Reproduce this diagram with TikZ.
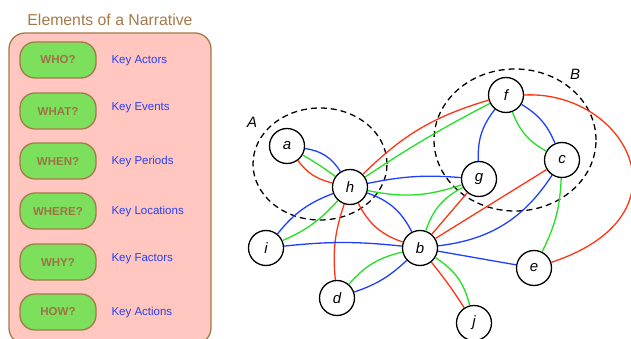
\documentclass[tikz,border=0pt]{standalone}
\usepackage{fontspec}
\setmainfont{Liberation Sans}
\usepackage{tikz}

\definecolor{brownline}{HTML}{A5794A}
\definecolor{panelpink}{HTML}{FFC7BF}
\definecolor{pillgreen}{HTML}{7DE05C}
\definecolor{labelblue}{HTML}{2B3FF0}
\definecolor{edgered}{HTML}{FF3414}
\definecolor{edgegreen}{HTML}{22E022}
\definecolor{edgeblue}{HTML}{1F3FFF}

\tikzset{
    pill/.style={draw=brownline, line width=1.3pt, fill=pillgreen, rounded corners=15pt,
        minimum width=76pt, minimum height=36pt, inner sep=0pt,
        font=\fontsize{11.5}{12}\selectfont\bfseries, text=brownline!95!black},
    keylabel/.style={anchor=west, font=\fontsize{11.5}{12}\selectfont, text=labelblue},
    vertex/.style={circle, draw, line width=1.3pt, fill=white, minimum size=35pt, inner sep=0pt,
        font=\fontsize{15}{15}\selectfont\itshape},
    red edge/.style={edgered, line width=1.3pt},
    green edge/.style={edgegreen, line width=1.3pt},
    blue edge/.style={edgeblue, line width=1.3pt},
    group/.style={draw, line width=1.3pt, dash pattern=on 6pt off 4pt}
}

\begin{document}
\begin{tikzpicture}[x=1pt, y=-1pt]
    \useasboundingbox (0,0) rectangle (631,339);

    % Left panel
    \node[text=brownline, font=\fontsize{15.8}{16}\selectfont] (title) at (110,20) {Elements of a Narrative};
    \draw[draw=brownline, line width=1.3pt, fill=panelpink, rounded corners=16pt] (9,33) rectangle (211,344);

    \node[pill] (who) at (58,60) {WHO?};
    \node[pill] (what) at (58,111) {WHAT?};
    \node[pill] (when) at (58,161) {WHEN?};
    \node[pill] (where) at (58,211) {WHERE?};
    \node[pill] (why) at (58,262) {WHY?};
    \node[pill] (how) at (58,312) {HOW?};

    \node[keylabel] (actors) at (108,61) {Key Actors};
    \node[keylabel] (events) at (108,108) {Key Events};
    \node[keylabel] (periods) at (108,162) {Key Periods};
    \node[keylabel] (locations) at (108,212) {Key Locations};
    \node[keylabel] (factors) at (108,259) {Key Factors};
    \node[keylabel] (actions) at (108,313) {Key Actions};

    % Groups
    \draw[group] (320,164) ellipse (67pt and 56pt);
    \node[font=\fontsize{15}{15}\selectfont\itshape] (labA) at (252,122) {A};
    \draw[group] (515,140) ellipse (81pt and 71pt);
    \node[font=\fontsize{15}{15}\selectfont\itshape] (labB) at (575,74) {B};

    % Vertices
    \node[vertex] (a) at (287,146) {a};
    \node[vertex] (h) at (350,187) {h};
    \node[vertex] (g) at (479,179) {g};
    \node[vertex] (f) at (506,95) {f};
    \node[vertex] (c) at (562,160) {c};
    \node[vertex] (i) at (266,248) {i};
    \node[vertex] (b) at (420,248) {b};
    \node[vertex] (e) at (534,268) {e};
    \node[vertex] (d) at (337,298) {d};
    \node[vertex] (j) at (474,323) {j};

    % Edges around h
    \draw[blue edge] (a) to[bend left=25] (h);
    \draw[green edge] (a) to[bend left=3] (h);
    \draw[red edge] (a) to[bend right=20] (h);
    \draw[red edge] (h) to[bend left=14] (f);
    \draw[green edge] (h) to[bend left=3] (f);
    \draw[blue edge] (h) to[bend left=8] (g);
    \draw[green edge] (h) to[bend right=15] (g);
    \draw[blue edge] (i) to[bend left=15] (h);
    \draw[green edge] (i) to[bend right=12] (h);
    \draw[red edge] (d) to[bend left=12] (h);
    \draw[red edge] (h) to[bend right=22] (b);
    \draw[blue edge] (h) to[bend left=22] (b);

    % Edges around b
    \draw[blue edge] (i) to[bend left=6] (b);
    \draw[green edge] (d) to[bend left=18] (b);
    \draw[blue edge] (d) to[bend right=12] (b);
    \draw[red edge] (b) to[bend left=3] (j);
    \draw[green edge] (b) to[bend left=22] (j);
    \draw[blue edge] (b) -- (e);
    \draw[green edge] (b) to[bend left=22] (g);
    \draw[red edge] (b) -- (g);
    \draw[red edge] (b) -- (c);
    \draw[blue edge] (b) to[bend right=25] (c);

    % Edges in B
    \draw[blue edge] (g) to[bend left=20] (f);
    \draw[green edge] (f) to[bend right=20] (c);
    \draw[blue edge] (f) to[bend left=18] (c);
    \draw[green edge] (c) to[bend left=12] (e);
    \draw[red edge] (f.east) .. controls (625,90) and (695,215) .. (e);
\end{tikzpicture}
\end{document}
